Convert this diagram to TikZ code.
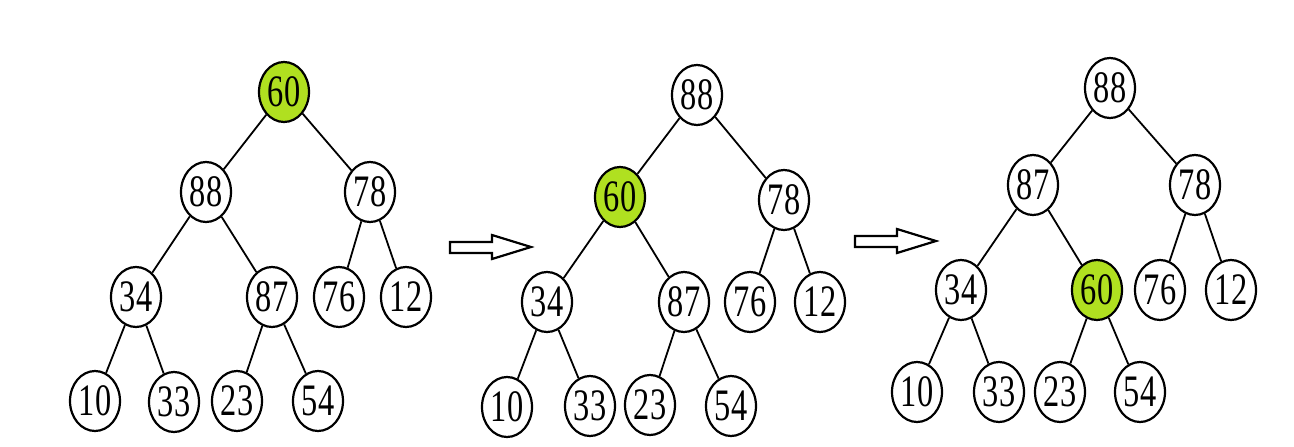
\documentclass[tikz,border=0pt]{standalone}
\usepackage{fontspec}
\usetikzlibrary{shapes.geometric}
\newfontfamily\numfont[FakeStretch=0.72]{Liberation Serif}
\definecolor{hl}{RGB}{176,224,32}
\tikzset{
  nd/.style={ellipse, draw=black, line width=2.2pt, fill=white, minimum width=50pt, minimum height=60pt, inner sep=0pt, font=\numfont\fontsize{45}{45}\selectfont},
  hot/.style={nd, fill=hl},
  ed/.style={line width=1.8pt},
  blk/.style={line width=2.2pt, line join=miter}
}
\begin{document}
\begin{tikzpicture}[x=1pt,y=-1pt]
\useasboundingbox (0,0) rectangle (1294,447);
% tree 1
\node[hot] (a1) at (284,92) {60};
\node[nd] (a2) at (206,192) {88};
\node[nd] (a3) at (370,192) {78};
\node[nd] (a4) at (136,297) {34};
\node[nd] (a5) at (272,297) {87};
\node[nd] (a6) at (339,297) {76};
\node[nd] (a7) at (406,297) {12};
\node[nd] (a8) at (95,401) {10};
\node[nd] (a9) at (174,402) {33};
\node[nd] (a10) at (237,401) {23};
\node[nd] (a11) at (318,401) {54};
\draw[ed] (a1)--(a2) (a1)--(a3) (a2)--(a4) (a2)--(a5) (a3)--(a6) (a3)--(a7)
  (a4)--(a8) (a4)--(a9) (a5)--(a10) (a5)--(a11);
% arrow 1
\draw[blk] (450,242) -- (492,242) -- (492,235) -- (531,247) -- (492,259) -- (492,253) -- (450,253) -- cycle;
% tree 2
\node[nd] (b1) at (697,95) {88};
\node[hot] (b2) at (620,197) {60};
\node[nd] (b3) at (784,200) {78};
\node[nd] (b4) at (547,302) {34};
\node[nd] (b5) at (684,302) {87};
\node[nd] (b6) at (750,302) {76};
\node[nd] (b7) at (820,302) {12};
\node[nd] (b8) at (507,407) {10};
\node[nd] (b9) at (590,406) {33};
\node[nd] (b10) at (650,405) {23};
\node[nd] (b11) at (731,406) {54};
\draw[ed] (b1)--(b2) (b1)--(b3) (b2)--(b4) (b2)--(b5) (b3)--(b6) (b3)--(b7)
  (b4)--(b8) (b4)--(b9) (b5)--(b10) (b5)--(b11);
% arrow 2
\draw[blk] (855,236) -- (897,236) -- (897,229) -- (936,241) -- (897,253) -- (897,247) -- (855,247) -- cycle;
% tree 3
\node[nd] (c1) at (1110,88) {88};
\node[nd] (c2) at (1033,185) {87};
\node[nd] (c3) at (1195,185) {78};
\node[nd] (c4) at (961,290) {34};
\node[hot] (c5) at (1097,290) {60};
\node[nd] (c6) at (1160,290) {76};
\node[nd] (c7) at (1231,290) {12};
\node[nd] (c8) at (917,392) {10};
\node[nd] (c9) at (999,392) {33};
\node[nd] (c10) at (1060,392) {23};
\node[nd] (c11) at (1140,392) {54};
\draw[ed] (c1)--(c2) (c1)--(c3) (c2)--(c4) (c2)--(c5) (c3)--(c6) (c3)--(c7)
  (c4)--(c8) (c4)--(c9) (c5)--(c10) (c5)--(c11);
\end{tikzpicture}
\end{document}
